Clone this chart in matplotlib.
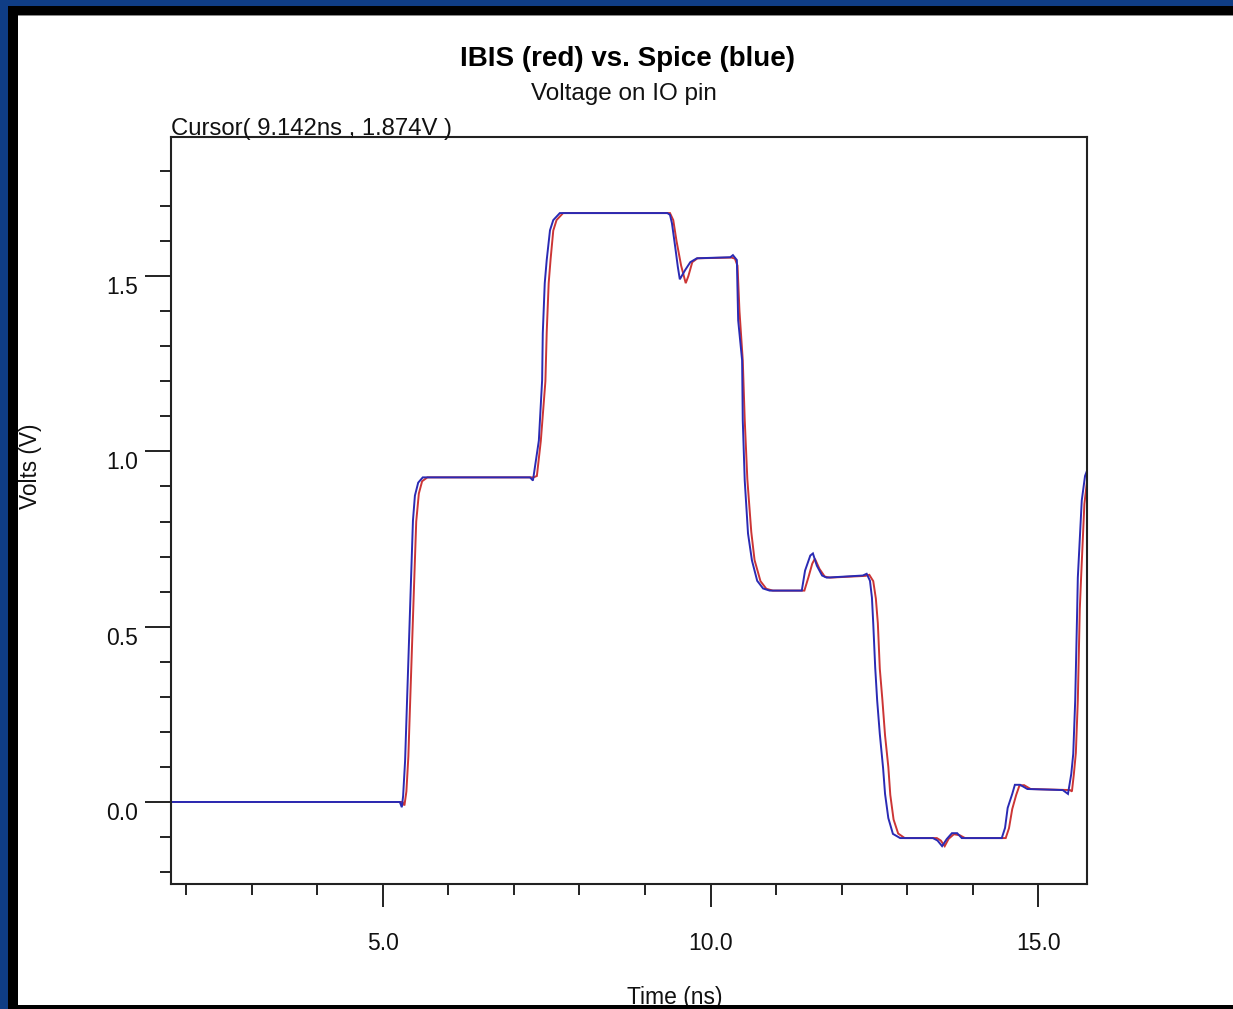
import matplotlib
matplotlib.use("Agg")
import matplotlib.pyplot as plt
from matplotlib.patches import Rectangle
from matplotlib.ticker import MultipleLocator, FixedLocator

plt.rcParams['font.family'] = ['Liberation Sans', 'DejaVu Sans']

# ---------------- data ----------------
title = "IBIS (red) vs. Spice (blue)"
subtitle = "Voltage on IO pin"
cursor_text = "Cursor( 9.142ns , 1.874V )"
xlabel = "Time (ns)"
ylabel = "Volts (V)"

x_major = [5.0, 10.0, 15.0]
x_major_labels = ["5.0", "10.0", "15.0"]
x_minor = [2, 3, 4, 6, 7, 8, 9, 11, 12, 13, 14]
y_major = [0.0, 0.5, 1.0, 1.5]
y_major_labels = ["0.0", "0.5", "1.0", "1.5"]
y_minor = [-0.2, -0.1, 0.1, 0.2, 0.3, 0.4, 0.6, 0.7, 0.8, 0.9,
           1.1, 1.2, 1.3, 1.4, 1.6, 1.7, 1.8]

# Spice (blue)
t_spice = [1.77, 5.26, 5.29, 5.31, 5.34, 5.37, 5.42, 5.46, 5.49, 5.54, 5.61,
           7.245, 7.29, 7.38, 7.43, 7.44, 7.47, 7.50, 7.55, 7.60, 7.70,
           9.34, 9.38, 9.41, 9.46, 9.50, 9.53, 9.61, 9.69, 9.79, 10.30, 10.34,
           10.40, 10.42, 10.48, 10.49, 10.52, 10.57, 10.63, 10.71, 10.80, 10.90,
           11.39, 11.44, 11.52, 11.56, 11.62, 11.70, 11.77, 12.32, 12.38,
           12.43, 12.46, 12.48, 12.51, 12.54, 12.58, 12.63, 12.66, 12.71, 12.78, 12.89,
           13.39, 13.46, 13.53, 13.60, 13.68, 13.76, 13.83,
           14.44, 14.49, 14.53, 14.60, 14.64, 14.72, 14.83, 15.37, 15.45,
           15.50, 15.53, 15.56, 15.59, 15.60, 15.66, 15.71, 15.75]
v_spice = [0.0, 0.0, -0.015, 0.017, 0.117, 0.289, 0.574, 0.803, 0.874, 0.911, 0.926,
           0.926, 0.917, 1.031, 1.203, 1.337, 1.480, 1.546, 1.631, 1.660, 1.680,
           1.680, 1.675, 1.651, 1.583, 1.526, 1.491, 1.517, 1.540, 1.551, 1.554, 1.560,
           1.546, 1.374, 1.260, 1.089, 0.917, 0.766, 0.689, 0.631, 0.609, 0.603,
           0.603, 0.660, 0.703, 0.709, 0.674, 0.646, 0.640, 0.646, 0.651,
           0.631, 0.583, 0.509, 0.383, 0.289, 0.194, 0.097, 0.023, -0.046, -0.091, -0.103,
           -0.103, -0.110, -0.126, -0.106, -0.089, -0.089, -0.103,
           -0.103, -0.074, -0.017, 0.023, 0.049, 0.049, 0.037, 0.034, 0.023,
           0.080, 0.137, 0.289, 0.546, 0.640, 0.860, 0.930, 0.950]

# IBIS (red)
t_ibis = [1.77, 5.30, 5.33, 5.36, 5.39, 5.42, 5.47, 5.51, 5.55, 5.60, 5.68,
          7.30, 7.35, 7.41, 7.48, 7.50, 7.53, 7.56, 7.60, 7.65, 7.75,
          9.38, 9.43, 9.48, 9.55, 9.62, 9.66, 9.72, 9.80, 10.32,
          10.37, 10.41, 10.44, 10.49, 10.52, 10.56, 10.62, 10.67, 10.76, 10.85, 10.95,
          11.43, 11.49, 11.55, 11.59, 11.66, 11.74, 11.82, 12.36, 12.42,
          12.48, 12.52, 12.55, 12.58, 12.62, 12.66, 12.71, 12.74, 12.79, 12.86, 12.96,
          13.45, 13.51, 13.57, 13.63, 13.71, 13.80, 13.88,
          14.50, 14.55, 14.60, 14.66, 14.71, 14.78, 14.88, 15.48, 15.51,
          15.54, 15.57, 15.60, 15.63, 15.65, 15.70, 15.75]
v_ibis = [0.0, 0.0, -0.010, 0.030, 0.130, 0.300, 0.580, 0.800, 0.880, 0.915, 0.926,
          0.926, 0.930, 1.030, 1.200, 1.340, 1.480, 1.550, 1.630, 1.660, 1.680,
          1.680, 1.660, 1.600, 1.530, 1.480, 1.500, 1.540, 1.551, 1.553,
          1.550, 1.530, 1.400, 1.260, 1.090, 0.920, 0.770, 0.690, 0.630, 0.608, 0.603,
          0.603, 0.640, 0.680, 0.694, 0.665, 0.643, 0.640, 0.645, 0.648,
          0.630, 0.580, 0.510, 0.380, 0.290, 0.190, 0.100, 0.020, -0.050, -0.090, -0.103,
          -0.103, -0.110, -0.126, -0.105, -0.092, -0.095, -0.103,
          -0.103, -0.075, -0.020, 0.020, 0.047, 0.048, 0.037, 0.034, 0.030,
          0.080, 0.140, 0.290, 0.550, 0.640, 0.850, 0.930]

# ---------------- figure ----------------
W, H = 1233, 1009
fig = plt.figure(figsize=(W / 100, H / 100), dpi=100)
fig.patch.set_facecolor('#0f3d85')

def frect(x0, y0, x1, y1, color, z):
    # pixel box (top-left origin) -> figure fraction rectangle
    r = Rectangle((x0 / W, 1 - y1 / H), (x1 - x0) / W, (y1 - y0) / H,
                  transform=fig.transFigure, facecolor=color, edgecolor='none',
                  zorder=z)
    fig.patches.append(r)

frect(8, 6, W, H, 'black', -10)
frect(18, 15, W, 17, '#8a8a8a', -9)
frect(18, 16, W, 1005, 'white', -8)

ax = fig.add_axes([171 / W, 1 - 884 / H, (1087 - 171) / W, (884 - 137) / H])
ax.set_facecolor('white')
ax.plot(t_ibis, v_ibis, color='#cc3535', lw=1.4, solid_joinstyle='miter')
ax.plot(t_spice, v_spice, color='#2a2ab4', lw=1.4, solid_joinstyle='miter')
ax.set_xlim(1.77, 15.74)
ax.set_ylim(-0.234, 1.897)

for s in ax.spines.values():
    s.set_color('#222222')
    s.set_linewidth(1.5)

ax.xaxis.set_major_locator(FixedLocator(x_major))
ax.xaxis.set_minor_locator(FixedLocator(x_minor))
ax.set_xticklabels(x_major_labels)
ax.yaxis.set_major_locator(FixedLocator(y_major))
ax.yaxis.set_minor_locator(FixedLocator(y_minor))
ax.set_yticklabels(y_major_labels)

ax.tick_params(axis='x', which='major', direction='out', length=16.5, width=1.4,
               color='#222222', pad=18, labelsize=16.5, labelcolor='#111111')
ax.tick_params(axis='x', which='minor', direction='out', length=8, width=1.4,
               color='#222222')
ax.tick_params(axis='y', which='major', direction='out', length=19, width=1.4,
               color='#222222', pad=5, labelsize=16.5, labelcolor='#111111')
ax.tick_params(axis='y', which='minor', direction='out', length=8, width=1.4,
               color='#222222')
plt.setp(ax.get_yticklabels(), va='top')

fig.text(627 / W, 1 - 66 / H, title, ha='center', va='baseline',
         fontsize=20, fontweight='bold', color='black')
fig.text(624 / W, 1 - 100 / H, subtitle, ha='center', va='baseline',
         fontsize=17.5, color='#111111')
fig.text(171 / W, 1 - 135 / H, cursor_text, ha='left', va='baseline',
         fontsize=17.2, color='#111111')
fig.text(31 / W, 1 - 466 / H, ylabel, ha='center', va='center', rotation=90,
         fontsize=16.3, color='#111111')
fig.text(675 / W, 1 - 1004 / H, xlabel, ha='center', va='baseline',
         fontsize=16.5, color='#111111', zorder=1)
# bottom black band drawn over the x-axis title, as in the original
bot = Rectangle((8 / W, 0), 1, 4 / H, transform=fig.transFigure,
                facecolor='black', edgecolor='none', zorder=20)
fig.artists.append(bot)

fig.savefig('out.png', dpi=100, facecolor=fig.get_facecolor())
